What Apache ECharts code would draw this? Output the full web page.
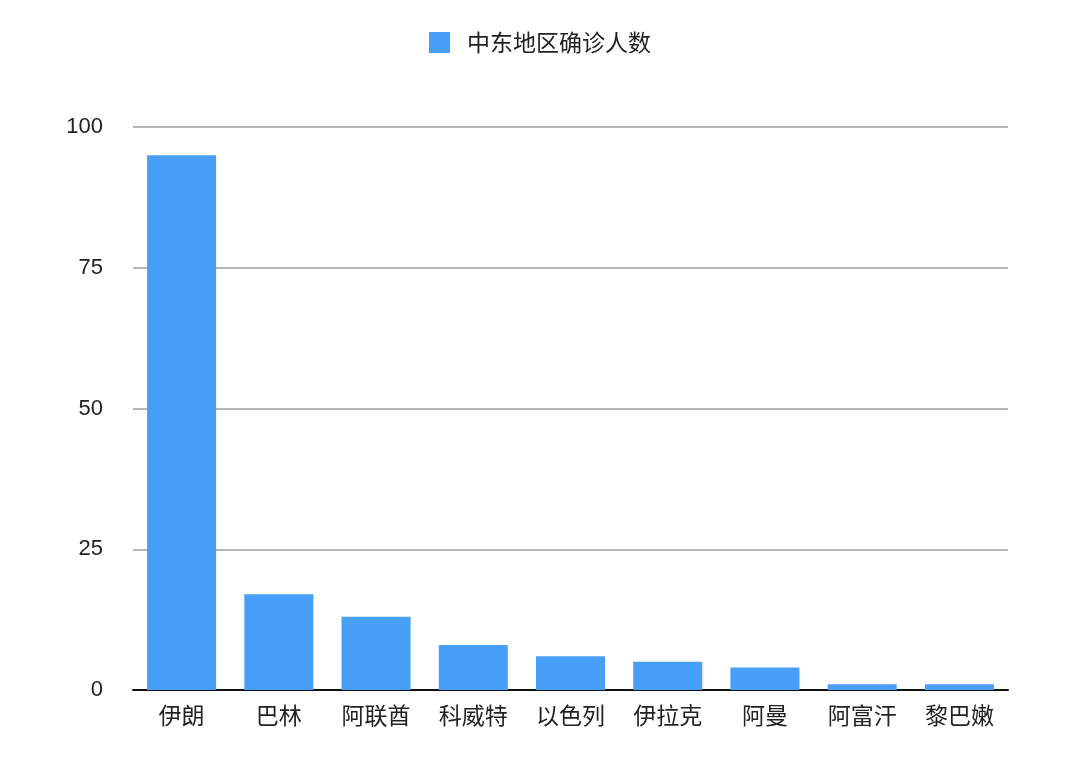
<!DOCTYPE html>
<html>
<head>
<meta charset="utf-8">
<script src="https://cdn.jsdelivr.net/npm/echarts@6/dist/echarts.min.js"></script>
<style>
html,body{margin:0;padding:0;background:#fff;}
#c{width:1080px;height:763px;}
</style>
</head>
<body>
<div id="c"></div>
<script>
const categories = ['伊朗','巴林','阿联酋','科威特','以色列','伊拉克','阿曼','阿富汗','黎巴嫩'];
const values = [95, 17, 13, 8, 6, 5, 4, 1, 1];
const seriesName = '中东地区确诊人数';
const yTicks = [0, 25, 50, 75, 100];

const chart = echarts.init(document.getElementById('c'));
chart.setOption({
  animation: false,
  textStyle: { fontFamily: '"Noto Sans CJK SC", "Noto Sans", sans-serif' },
  legend: {
    top: 26,
    left: 424,
    itemWidth: 21,
    itemHeight: 21,
    icon: 'rect',
    textStyle: { fontSize: 23, color: '#222', padding: [0, 0, 0, 12], fontFamily: '"Noto Sans CJK SC", sans-serif' },
    data: [seriesName]
  },
  grid: { left: 133, right: 72, top: 127, bottom: 73, containLabel: false },
  xAxis: {
    type: 'category',
    data: categories,
    axisTick: { show: false },
    axisLine: { lineStyle: { color: '#111', width: 2 } },
    axisLabel: { fontSize: 23, color: '#222', margin: 14, fontFamily: '"Noto Sans CJK SC", sans-serif' }
  },
  yAxis: {
    type: 'value',
    min: yTicks[0],
    max: yTicks[yTicks.length - 1],
    interval: 25,
    axisLine: { show: false },
    axisTick: { show: false },
    axisLabel: { fontSize: 22, color: '#222', margin: 30, fontFamily: '"Liberation Sans", Arial, sans-serif' },
    splitLine: { lineStyle: { color: '#b8b8b8', width: 2 } }
  },
  series: [{
    name: seriesName,
    type: 'bar',
    data: values,
    barWidth: '71%',
    itemStyle: { color: '#479ff7' }
  }]
});
</script>
</body>
</html>
